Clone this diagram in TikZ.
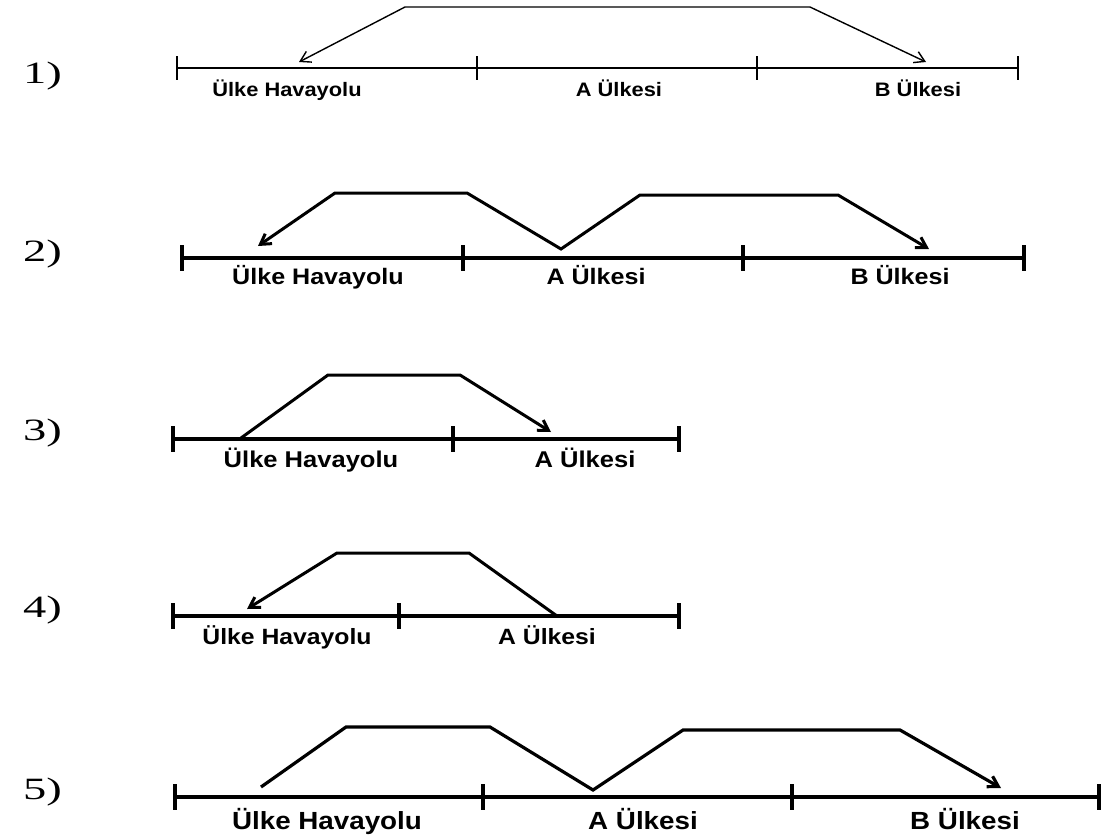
\documentclass[tikz,border=0pt]{standalone}
\usepackage{graphicx}
\usepackage{fontspec}
\setmainfont{Liberation Serif}
\newfontfamily\lblfont{Liberation Sans}
\usetikzlibrary{arrows.meta}
\newcommand\sx[1]{\scalebox{1.12}[1]{#1}}
\newcommand\nx[1]{\scalebox{1.5}[1]{#1}}
\tikzset{
  axisline/.style={line width=#1, line cap=butt},
  route/.style={line width=#1, line join=miter,
    >={Straight Barb[length=10pt,width=12pt,line width=#1]}},
  lbl/.style={font=\lblfont\bfseries\fontsize{#1}{#1}\selectfont, anchor=base, inner sep=0pt},
  num/.style={font=\fontsize{31}{31}\selectfont, anchor=base east, inner sep=0pt}
}
\begin{document}
\begin{tikzpicture}[x=1pt,y=-1pt]
\useasboundingbox (0,0) rectangle (1101,839);
\fill[white] (0,0) rectangle (1101,839);

% ---------- row 1 ----------
\node[num] (n1) at (62,83) {\nx{1)}};
\coordinate (r1a) at (177,68);
\coordinate (r1b) at (477,68);
\coordinate (r1c) at (757,68);
\coordinate (r1d) at (1018,68);
\draw[axisline=1.6pt] (r1a) -- (r1d);
\foreach \p in {r1a,r1b,r1c,r1d}
  \draw[axisline=1.6pt] ([yshift=12pt]\p) -- ([yshift=-12pt]\p);
\node[lbl=19.5] (r1u) at (287,96) {\sx{Ülke Havayolu}};
\node[lbl=19.5] (r1A) at (619,96) {\sx{A Ülkesi}};
\node[lbl=19.5] (r1B) at (918,96) {\sx{B Ülkesi}};
\coordinate (r1s) at (299,62);
\coordinate (r1p) at (405,7);
\coordinate (r1q) at (810,7);
\coordinate (r1e) at (926,62);
\draw[route=1.4pt,<->] (r1s) -- (r1p) -- (r1q) -- (r1e);

% ---------- row 2 ----------
\node[num] (n2) at (62,261) {\nx{2)}};
\coordinate (r2a) at (182,258);
\coordinate (r2b) at (463,258);
\coordinate (r2c) at (743,258);
\coordinate (r2d) at (1024,258);
\draw[axisline=4pt] (r2a) -- (r2d);
\foreach \p in {r2a,r2b,r2c,r2d}
  \draw[axisline=3.6pt] ([yshift=13pt]\p) -- ([yshift=-13pt]\p);
\node[lbl=22.4] (r2u) at (318,284) {\sx{Ülke Havayolu}};
\node[lbl=22.4] (r2A) at (596,284) {\sx{A Ülkesi}};
\node[lbl=22.4] (r2B) at (900,284) {\sx{B Ülkesi}};
\coordinate (r2s) at (258,246);
\coordinate (r2p) at (335,193);
\coordinate (r2q) at (467,193);
\coordinate (r2v) at (561,249);
\coordinate (r2r) at (640,195);
\coordinate (r2t) at (838,195);
\coordinate (r2e) at (929,249);
\draw[route=3pt,<->] (r2s) -- (r2p) -- (r2q) -- (r2v) -- (r2r) -- (r2t) -- (r2e);

% ---------- row 3 ----------
\node[num] (n3) at (62,440) {\nx{3)}};
\coordinate (r3a) at (173,439);
\coordinate (r3b) at (453,439);
\coordinate (r3c) at (679,439);
\draw[axisline=4pt] (r3a) -- (r3c);
\foreach \p in {r3a,r3b,r3c}
  \draw[axisline=3.6pt] ([yshift=13pt]\p) -- ([yshift=-13pt]\p);
\node[lbl=22.8] (r3u) at (311,467) {\sx{Ülke Havayolu}};
\node[lbl=22.8] (r3A) at (585,467) {\sx{A Ülkesi}};
\coordinate (r3s) at (241,438);
\coordinate (r3p) at (328,375);
\coordinate (r3q) at (460,375);
\coordinate (r3e) at (551,432);
\draw[route=3pt,->] (r3s) -- (r3p) -- (r3q) -- (r3e);

% ---------- row 4 ----------
\node[num] (n4) at (62,617) {\nx{4)}};
\coordinate (r4a) at (173,616);
\coordinate (r4b) at (399,616);
\coordinate (r4c) at (679,616);
\draw[axisline=4pt] (r4a) -- (r4c);
\foreach \p in {r4a,r4b,r4c}
  \draw[axisline=3.6pt] ([yshift=13pt]\p) -- ([yshift=-13pt]\p);
\node[lbl=22.1] (r4u) at (287,644) {\sx{Ülke Havayolu}};
\node[lbl=22.1] (r4A) at (547,644) {\sx{A Ülkesi}};
\coordinate (r4s) at (557,616);
\coordinate (r4p) at (469,553);
\coordinate (r4q) at (337,553);
\coordinate (r4e) at (247,609);
\draw[route=3pt,->] (r4s) -- (r4p) -- (r4q) -- (r4e);

% ---------- row 5 ----------
\node[num] (n5) at (62,799) {\nx{5)}};
\coordinate (r5a) at (175,797);
\coordinate (r5b) at (483,797);
\coordinate (r5c) at (792,797);
\coordinate (r5d) at (1099,797);
\coordinate (r5z) at (1101,797);
\draw[axisline=4.6pt] (r5a) -- (r5z);
\foreach \p in {r5a,r5b,r5c,r5d}
  \draw[axisline=4pt] ([yshift=13pt]\p) -- ([yshift=-13pt]\p);
\node[lbl=24.8] (r5u) at (327,829) {\sx{Ülke Havayolu}};
\node[lbl=24.8] (r5A) at (643,829) {\sx{A Ülkesi}};
\node[lbl=24.8] (r5B) at (965,829) {\sx{B Ülkesi}};
\coordinate (r5s) at (261,787);
\coordinate (r5p) at (346,727);
\coordinate (r5q) at (490,727);
\coordinate (r5v) at (593,790);
\coordinate (r5r) at (683,730);
\coordinate (r5t) at (900,730);
\coordinate (r5e) at (1001,788);
\draw[route=3.2pt,->] (r5s) -- (r5p) -- (r5q) -- (r5v) -- (r5r) -- (r5t) -- (r5e);
\end{tikzpicture}
\end{document}
